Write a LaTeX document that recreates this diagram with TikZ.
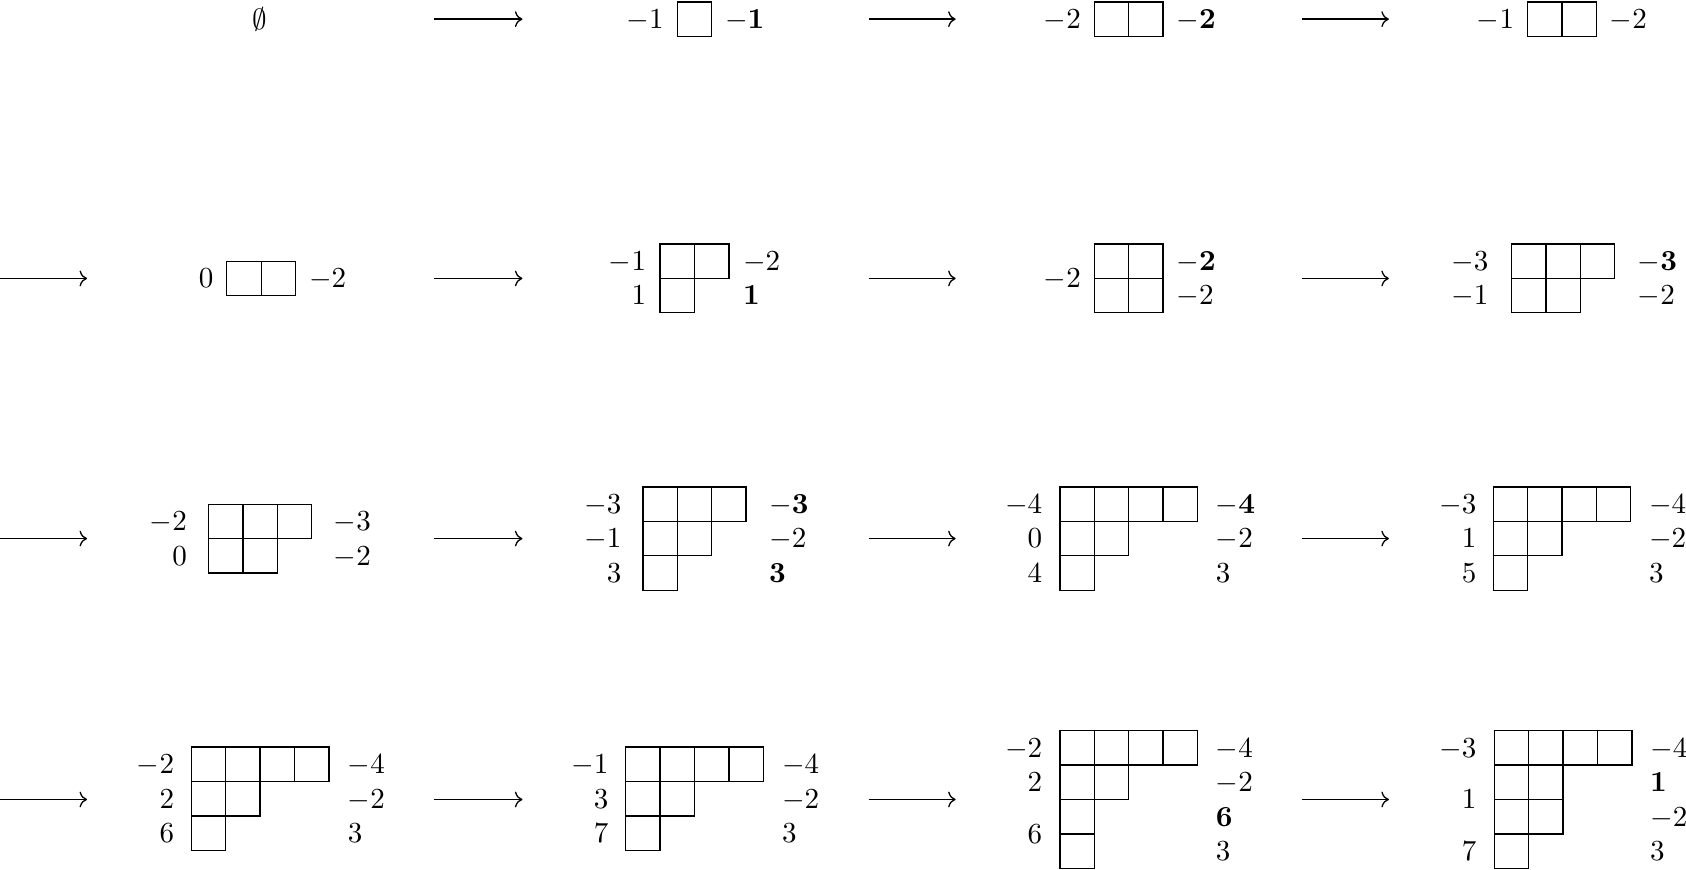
\documentclass[tikz,border=0pt]{standalone}
\usepackage{amsmath,amssymb}
\usetikzlibrary{arrows.meta}
\tikzset{
  cellline/.style={line width=0.45pt},
  labl/.style={anchor=east, inner sep=0pt, text height=6.44pt, text depth=0pt},
  labr/.style={anchor=west, inner sep=0pt, text height=6.44pt, text depth=0pt},
  arr/.style={line width=0.45pt, -{Computer Modern Rightarrow}},
}
\newcommand{\yrow}[3]{%
  \foreach \k in {1,...,#3}{\draw[cellline] ({#1+32*(\k-1)},#2) rectangle ++(32,32);}}
\begin{document}
\begin{tikzpicture}[x=0.37pt,y=-0.37pt]
\useasboundingbox (0,0) rectangle (1568.4,809.3);

% ---------- arrows ----------
\foreach \r/\yy in {1/17.8,2/259,3/501,4/743.7}{
  \coordinate (a\r b1) at (404,\yy); \coordinate (a\r e1) at (486,\yy);
  \coordinate (a\r b2) at (808,\yy); \coordinate (a\r e2) at (889,\yy);
  \coordinate (a\r b3) at (1211,\yy); \coordinate (a\r e3) at (1292,\yy);
  \coordinate (a\r b0) at (0,\yy); \coordinate (a\r e0) at (81,\yy);
}
\foreach \r in {1,2,3,4}{
  \foreach \c in {1,2,3}{\draw[arr] (a\r b\c) -- (a\r e\c);}
}
\foreach \r in {2,3,4}{\draw[arr] (a\r b0) -- (a\r e0);}

% ---------- row 1 ----------
\node[inner sep=0pt] (t11) at (242,17.8) {$\emptyset$};

\yrow{630}{1.8}{1}
\node[labl] (t12l1) at (618,17.8) {$-1$};
\node[labr] (t12r1) at (674,17.8) {$\mathbf{-1}$};

\yrow{1018}{1.8}{2}
\node[labl] (t13l1) at (1006,17.8) {$-2$};
\node[labr] (t13r1) at (1094,17.8) {$\mathbf{-2}$};

\yrow{1421}{1.8}{2}
\node[labl] (t14l1) at (1409,17.8) {$-1$};
\node[labr] (t14r1) at (1497,17.8) {$-2$};

% ---------- row 2 ----------
\yrow{211}{243}{2}
\node[labl] (t21l1) at (199,259) {$0$};
\node[labr] (t21r1) at (287,259) {$-2$};

\yrow{614}{227}{2}
\yrow{614}{259}{1}
\node[labl] (t22l1) at (601.5,243) {$-1$};
\node[labl] (t22l2) at (601.5,275) {$1$};
\node[labr] (t22r1) at (690.7,243) {$-2$};
\node[labr] (t22r2) at (690.7,275) {$\mathbf{1}$};

\yrow{1018}{227}{2}
\yrow{1018}{259}{2}
\node[labl] (t23l1) at (1006,259) {$-2$};
\node[labr] (t23r1) at (1094,243) {$\mathbf{-2}$};
\node[labr] (t23r2) at (1094,275) {$-2$};

\yrow{1406}{227}{3}
\yrow{1406}{259}{2}
\node[labl] (t24l1) at (1385,243) {$-3$};
\node[labl] (t24l2) at (1385,275) {$-1$};
\node[labr] (t24r1) at (1523,243) {$\mathbf{-3}$};
\node[labr] (t24r2) at (1523,275) {$-2$};

% ---------- row 3 ----------
\yrow{194}{469}{3}
\yrow{194}{501}{2}
\node[labl] (t31l1) at (174.5,485) {$-2$};
\node[labl] (t31l2) at (174.5,517) {$0$};
\node[labr] (t31r1) at (310,485) {$-3$};
\node[labr] (t31r2) at (310,517) {$-2$};

\yrow{598}{453}{3}
\yrow{598}{485}{2}
\yrow{598}{517}{1}
\node[labl] (t32l1) at (578.5,469) {$-3$};
\node[labl] (t32l2) at (578.5,501) {$-1$};
\node[labl] (t32l3) at (578.5,533) {$3$};
\node[labr] (t32r1) at (715,469) {$\mathbf{-3}$};
\node[labr] (t32r2) at (715,501) {$-2$};
\node[labr] (t32r3) at (715,533) {$\mathbf{3}$};

\yrow{986}{453}{4}
\yrow{986}{485}{2}
\yrow{986}{517}{1}
\node[labl] (t33l1) at (970,469) {$-4$};
\node[labl] (t33l2) at (970,501) {$0$};
\node[labl] (t33l3) at (970,533) {$4$};
\node[labr] (t33r1) at (1130.5,469) {$\mathbf{-4}$};
\node[labr] (t33r2) at (1130.5,501) {$-2$};
\node[labr] (t33r3) at (1130.5,533) {$3$};

\yrow{1389}{453}{4}
\yrow{1389}{485}{2}
\yrow{1389}{517}{1}
\node[labl] (t34l1) at (1374,469) {$-3$};
\node[labl] (t34l2) at (1374,501) {$1$};
\node[labl] (t34l3) at (1374,533) {$5$};
\node[labr] (t34r1) at (1533.5,469) {$-4$};
\node[labr] (t34r2) at (1533.5,501) {$-2$};
\node[labr] (t34r3) at (1533.5,533) {$3$};

% ---------- row 4 ----------
\yrow{178}{695}{4}
\yrow{178}{727}{2}
\yrow{178}{759}{1}
\node[labl] (t41l1) at (162.5,711) {$-2$};
\node[labl] (t41l2) at (162.5,743) {$2$};
\node[labl] (t41l3) at (162.5,775) {$6$};
\node[labr] (t41r1) at (323,711) {$-4$};
\node[labr] (t41r2) at (323,743) {$-2$};
\node[labr] (t41r3) at (323,775) {$3$};

\yrow{582}{695}{4}
\yrow{582}{727}{2}
\yrow{582}{759}{1}
\node[labl] (t42l1) at (566.5,711) {$-1$};
\node[labl] (t42l2) at (566.5,743) {$3$};
\node[labl] (t42l3) at (566.5,775) {$7$};
\node[labr] (t42r1) at (727,711) {$-4$};
\node[labr] (t42r2) at (727,743) {$-2$};
\node[labr] (t42r3) at (727,775) {$3$};

\yrow{986}{679.7}{4}
\yrow{986}{711.7}{2}
\yrow{986}{743.7}{1}
\yrow{986}{775.7}{1}
\node[labl] (t43l1) at (970,695.7) {$-2$};
\node[labl] (t43l2) at (970,727.7) {$2$};
\node[labl] (t43l3) at (970,775.7) {$6$};
\node[labr] (t43r1) at (1130.5,695.7) {$-4$};
\node[labr] (t43r2) at (1130.5,727.7) {$-2$};
\node[labr] (t43r3) at (1130.5,759.7) {$\mathbf{6}$};
\node[labr] (t43r4) at (1130.5,791.7) {$3$};

\yrow{1390}{679.7}{4}
\yrow{1390}{711.7}{2}
\yrow{1390}{743.7}{2}
\yrow{1390}{775.7}{1}
\node[labl] (t44l1) at (1374,695.7) {$-3$};
\node[labl] (t44l2) at (1374,743.7) {$1$};
\node[labl] (t44l3) at (1374,791.7) {$7$};
\node[labr] (t44r1) at (1534.5,695.7) {$-4$};
\node[labr] (t44r2) at (1534.5,727.7) {$\mathbf{1}$};
\node[labr] (t44r3) at (1534.5,759.7) {$-2$};
\node[labr] (t44r4) at (1534.5,791.7) {$3$};
\end{tikzpicture}
\end{document}
